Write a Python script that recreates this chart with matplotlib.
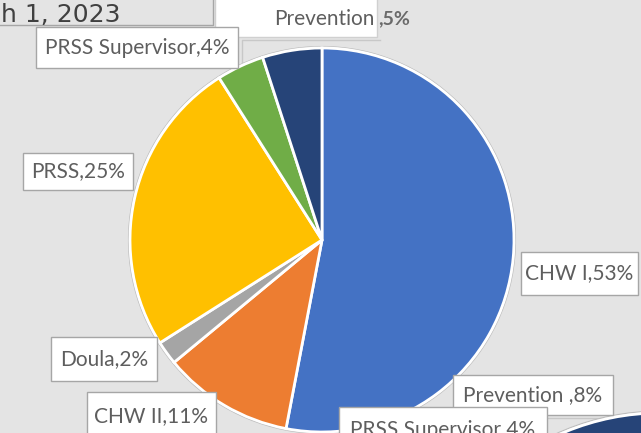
import matplotlib.pyplot as plt
from matplotlib.patches import Rectangle, Circle

plt.rcParams['font.family'] = ['Lato', 'DejaVu Sans']

# pie slices, clockwise from 12 o'clock
roles = ["CHW I", "CHW II", "Doula", "PRSS", "PRSS Supervisor", "Prevention"]
shares = [53, 11, 2, 25, 4, 5]
colors = ["#4472C4", "#ED7D31", "#A5A5A5", "#FFC000", "#70AD47", "#264478"]

# data label texts as shown in the screenshot
label_texts = ["CHW I,53%", "CHW II,11%", "Doula,2%", "PRSS,25%", "PRSS Supervisor,4%"]
# label boxes: x0, y0, x1, y1 (pixels, y down)
label_boxes = [(521, 252, 638, 295), (87, 392, 216, 440), (51, 337, 157, 381),
               (23, 153, 133, 190), (36, 27, 238, 68)]

# bits of the neighbouring chart that got caught in the crop
other_texts = ["Prevention ,8%", "PRSS Supervisor 4%"]
other_boxes = [(453, 375, 613, 415), (339, 407, 547, 450)]

bg = "#E4E4E4"
txt = "#5E5E5E"
edge = "#A6A6A6"

fig = plt.figure(figsize=(6.41, 4.33), dpi=100, facecolor=bg)
ax = fig.add_axes([0, 0, 1, 1])
ax.set_facecolor(bg)

# title strip of the chart above
ax.plot([0, 213, 213], [25, 25, 0], color=edge, lw=1)
ax.text(1, 22, "h 1, 2023", fontsize=18, color="#404040", va="baseline", ha="left",
        family="DejaVu Sans")

# faint plot-area border behind the pie
ax.plot([242, 242, 380], [75, 40, 40], color="#C8C8C8", lw=1, zorder=1)

# white box at top with the other chart's Prevention label
ax.add_patch(Rectangle((215, -5), 162, 42, facecolor="white", edgecolor="#D0D0D0", lw=1, zorder=2))
ax.text(375, 19, "Prevention", fontsize=15, color=txt, ha="right", va="center", zorder=3)
ax.text(378, 19, ",5%", fontsize=14, color="#6A6A6A", ha="left", va="center", fontweight="bold", zorder=3)

# main pie (y axis points down, so counterclock=True reads clockwise)
cx, cy, r = 322, 240, 192
ax.add_patch(Circle((cx, cy), r + 1.5, facecolor="none", edgecolor="#BDBDBD", lw=0.8, zorder=2))
wedges, _ = ax.pie(shares, colors=colors, startangle=-90, counterclock=True,
                   center=(cx, cy), radius=r,
                   wedgeprops=dict(edgecolor="white", linewidth=2))
for w in wedges:
    w.set_zorder(3)

# neighbouring pie peeking in at the bottom right
ax.add_patch(Circle((660, 660), 249, facecolor="none", edgecolor="#BDBDBD", lw=0.8, zorder=2))
ax.add_patch(Circle((660, 660), 247, facecolor="#264478", edgecolor="white", lw=2, zorder=2))
ax.plot([546, 546, 641], [440, 418, 418], color="#C8C8C8", lw=1, zorder=1)

for t, (x0, y0, x1, y1) in zip(label_texts + other_texts, label_boxes + other_boxes):
    ax.add_patch(Rectangle((x0, y0), x1 - x0, y1 - y0, facecolor="white",
                           edgecolor=edge, lw=1, zorder=4))
    if t == "CHW II,11%":
        yc = 416
    elif t == "PRSS Supervisor 4%":
        yc = 430
    else:
        yc = (y0 + y1) / 2
    ax.text((x0 + x1) / 2, yc, t, fontsize=15, color=txt, ha="center", va="center", zorder=5)

ax.set_xlim(0, 641)
ax.set_ylim(433, 0)
ax.set_aspect("equal")
ax.axis("off")

fig.savefig("out.png", dpi=100, facecolor=bg)
